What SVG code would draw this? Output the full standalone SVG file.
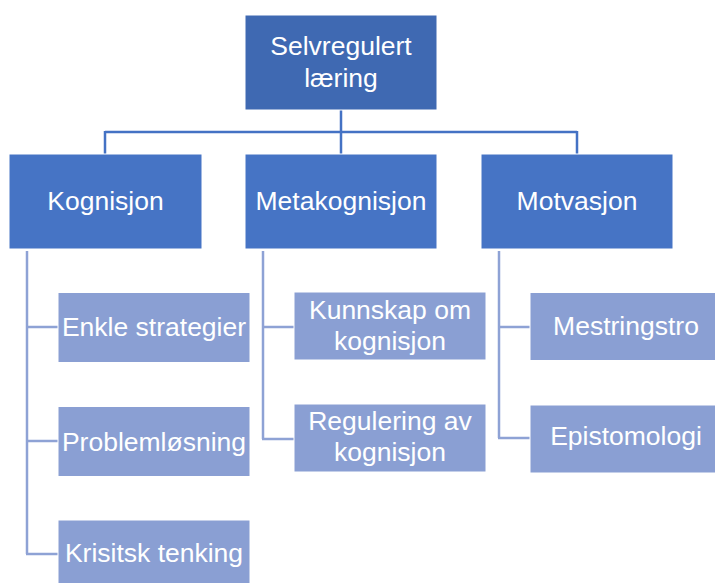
<svg xmlns="http://www.w3.org/2000/svg" width="715" height="583" viewBox="0 0 715 583">
<style>
text{font-family:"Liberation Sans",Arial,sans-serif;font-size:26.5px;fill:#fff;text-anchor:middle}
.root{fill:#3F69B2;stroke:#fff;stroke-width:1}
.l1{fill:#4674C5;stroke:#fff;stroke-width:1}
.l2{fill:#8A9FD3;stroke:#fff;stroke-width:1}
.c1{stroke:#4472C4;stroke-width:2.5;fill:none}
.c2{stroke:#8EA2D5;stroke-width:2.5;fill:none}
</style>
<rect width="715" height="583" fill="#fff"/>
<g id="connectors">
<path class="c1" d="M341,110 V154 M105,132 H577 M105,131 V154 M577,131 V154"/>
<path class="c2" d="M27,251 V554 M26,327 H58 M26,441 H58 M26,554 H58"/>
<path class="c2" d="M263,251 V439 M262,327 H294 M262,439 H294"/>
<path class="c2" d="M499,251 V438 M498,327 H530 M498,438 H530"/>
</g>
<g id="selvregulert"><rect class="root" x="245" y="15" width="192" height="95"/><text x="341" y="55">Selvregulert</text><text x="341" y="87">læring</text></g>
<g id="kognisjon"><rect class="l1" x="9" y="154" width="193" height="95"/><text x="105.5" y="210">Kognisjon</text></g>
<g id="metakognisjon"><rect class="l1" x="245" y="154" width="192" height="95"/><text x="341" y="210">Metakognisjon</text></g>
<g id="motvasjon"><rect class="l1" x="481" y="154" width="192" height="95"/><text x="577" y="210">Motvasjon</text></g>
<g id="enkle"><rect class="l2" x="58" y="292.5" width="192" height="70"/><text x="154" y="336">Enkle strategier</text></g>
<g id="problemlosning"><rect class="l2" x="58" y="406.5" width="192" height="70"/><text x="154" y="451">Problemløsning</text></g>
<g id="krisitsk"><rect class="l2" x="58" y="520" width="192" height="70"/><text x="154" y="562">Krisitsk tenking</text></g>
<g id="kunnskap"><rect class="l2" x="294" y="292" width="192" height="68"/><text x="390" y="319">Kunnskap om</text><text x="390" y="350">kognisjon</text></g>
<g id="regulering"><rect class="l2" x="294" y="404" width="192" height="68"/><text x="390" y="430">Regulering av</text><text x="390" y="461">kognisjon</text></g>
<g id="mestringstro"><rect class="l2" x="530" y="292.5" width="192" height="68"/><text x="626" y="335">Mestringstro</text></g>
<g id="epistomologi"><rect class="l2" x="530" y="405" width="192" height="68"/><text x="626" y="445">Epistomologi</text></g>
</svg>
